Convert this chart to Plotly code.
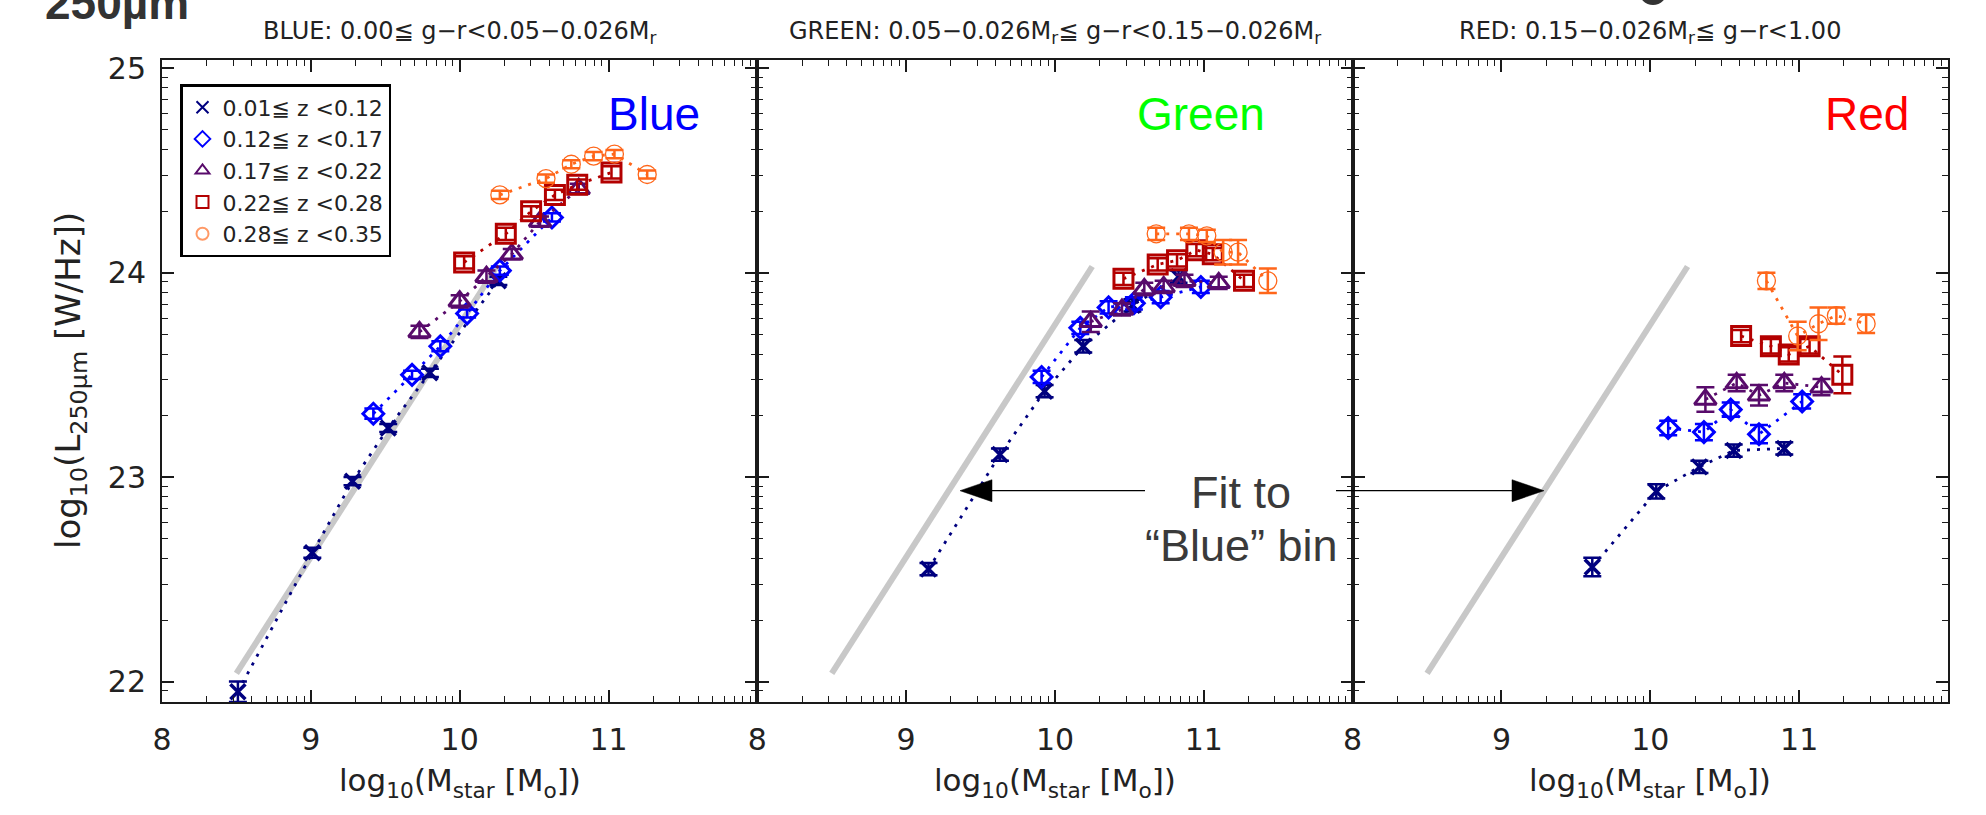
import numpy as np
import plotly.graph_objects as go

# ---------------- data ----------------
series_labels = ["0.01≦ z <0.12", "0.12≦ z <0.17", "0.17≦ z <0.22", "0.22≦ z <0.28", "0.28≦ z <0.35"]
series_colors = ["#00007f", "#0000ff", "#580b6b", "#b30000", "#ff661a"]
series_symbols = ["x-thin", "diamond-open", "triangle-up-open", "square-open", "circle-open"]

panel_titles = ["BLUE: 0.00≦ g−r<0.05−0.026M<sub>r</sub>",
                "GREEN: 0.05−0.026M<sub>r</sub>≦ g−r<0.15−0.026M<sub>r</sub>",
                "RED: 0.15−0.026M<sub>r</sub>≦ g−r<1.00"]
panel_names = ["Blue", "Green", "Red"]
panel_name_colors = ["#0000ff", "#00ff00", "#ff0000"]

x_ticks = [8, 9, 10, 11]
y_ticks = [22, 23, 24, 25]

# fit to the "Blue" bin (grey line), same in every panel
fit_x = [8.50, 10.25]
fit_y = [22.04, 24.03]

# ---- Blue panel ----
blue_z1_x = [8.51, 9.01, 9.28, 9.52, 9.80, 10.26]
blue_z1_y = [21.95, 22.63, 22.98, 23.24, 23.51, 23.96]
blue_z1_e = [0.05, 0.025, 0.02, 0.02, 0.02, 0.02]
blue_z2_x = [9.42, 9.68, 9.87, 10.05, 10.27, 10.62]
blue_z2_y = [23.31, 23.50, 23.64, 23.80, 24.01, 24.27]
blue_z2_e = [0.025, 0.02, 0.025, 0.02, 0.02, 0.02]
blue_z3_x = [9.73, 10.00, 10.18, 10.35, 10.54, 10.80]
blue_z3_y = [23.71, 23.86, 23.98, 24.09, 24.25, 24.41]
blue_z3_e = [0.03, 0.03, 0.03, 0.025, 0.025, 0.025]
blue_z4_x = [10.03, 10.31, 10.48, 10.64, 10.79, 11.02]
blue_z4_y = [24.05, 24.19, 24.30, 24.38, 24.43, 24.49]
blue_z4_e = [0.03, 0.03, 0.025, 0.025, 0.025, 0.03]
blue_z5_x = [10.27, 10.58, 10.75, 10.90, 11.04, 11.26]
blue_z5_y = [24.38, 24.46, 24.53, 24.57, 24.58, 24.48]
blue_z5_e = [0.02, 0.02, 0.02, 0.02, 0.02, 0.02]

# ---- Green panel ----
green_z1_x = [9.15, 9.63, 9.93, 10.19, 10.52, 10.83]
green_z1_y = [22.55, 23.11, 23.42, 23.64, 23.84, 23.98]
green_z1_e = [0.03, 0.03, 0.03, 0.03, 0.03, 0.03]
green_z2_x = [9.91, 10.17, 10.36, 10.53, 10.71, 10.98]
green_z2_y = [23.49, 23.73, 23.83, 23.85, 23.88, 23.93]
green_z2_e = [0.03, 0.03, 0.03, 0.03, 0.03, 0.03]
green_z3_x = [10.24, 10.45, 10.60, 10.73, 10.87, 11.10]
green_z3_y = [23.76, 23.82, 23.92, 23.93, 23.96, 23.95]
green_z3_e = [0.05, 0.03, 0.03, 0.03, 0.03, 0.03]
green_z4_x = [10.46, 10.69, 10.82, 10.95, 11.06, 11.27]
green_z4_y = [23.97, 24.04, 24.06, 24.11, 24.09, 23.96]
green_z4_e = [0.03, 0.03, 0.03, 0.03, 0.03, 0.03]
green_z5_x = [10.68, 10.90, 11.02, 11.13, 11.23, 11.43]
green_z5_y = [24.19, 24.19, 24.18, 24.10, 24.10, 23.96]
green_z5_e = [0.03, 0.03, 0.03, 0.06, 0.06, 0.06]

# ---- Red panel ----
red_z1_x = [9.61, 10.04, 10.33, 10.56, 10.90]
red_z1_y = [22.56, 22.93, 23.05, 23.13, 23.14]
red_z1_e = [0.045, 0.035, 0.03, 0.03, 0.03]
red_z2_x = [10.12, 10.36, 10.54, 10.73, 11.02]
red_z2_y = [23.24, 23.22, 23.33, 23.21, 23.37]
red_z2_e = [0.035, 0.04, 0.035, 0.045, 0.035]
red_z3_x = [10.37, 10.58, 10.73, 10.90, 11.15]
red_z3_y = [23.38, 23.46, 23.40, 23.46, 23.44]
red_z3_e = [0.06, 0.04, 0.05, 0.04, 0.04]
red_z4_x = [10.61, 10.81, 10.93, 11.07, 11.29]
red_z4_y = [23.69, 23.64, 23.60, 23.64, 23.50]
red_z4_e = [0.03, 0.035, 0.035, 0.035, 0.09]
red_z5_x = [10.78, 10.99, 11.13, 11.25, 11.45]
red_z5_y = [23.96, 23.69, 23.75, 23.79, 23.75]
red_z5_e = [0.04, 0.07, 0.08, 0.04, 0.045]

panels = [
    [(blue_z1_x, blue_z1_y, blue_z1_e), (blue_z2_x, blue_z2_y, blue_z2_e), (blue_z3_x, blue_z3_y, blue_z3_e),
     (blue_z4_x, blue_z4_y, blue_z4_e), (blue_z5_x, blue_z5_y, blue_z5_e)],
    [(green_z1_x, green_z1_y, green_z1_e), (green_z2_x, green_z2_y, green_z2_e), (green_z3_x, green_z3_y, green_z3_e),
     (green_z4_x, green_z4_y, green_z4_e), (green_z5_x, green_z5_y, green_z5_e)],
    [(red_z1_x, red_z1_y, red_z1_e), (red_z2_x, red_z2_y, red_z2_e), (red_z3_x, red_z3_y, red_z3_e),
     (red_z4_x, red_z4_y, red_z4_e), (red_z5_x, red_z5_y, red_z5_e)],
]

# ---------------- layout helpers ----------------
W, H = 1986, 815
L, R, T, B = 162, 1948, 60, 702
X_RANGE = [8, 12]
Y_RANGE = [21.9, 25.04]


def px(x):
    return (x - L) / (R - L)


def py(y):
    return 1 - (y - T) / (B - T)


def log_minor(lo, hi):
    vals = []
    for n in range(int(np.floor(lo)) - 1, int(np.ceil(hi)) + 1):
        for k in range(2, 10):
            v = n + np.log10(k)
            if lo < v < hi:
                vals.append(float(v))
    return vals


AX = "#1a1a1a"
TICKFONT = dict(family="DejaVu Sans, Liberation Sans, sans-serif", size=30, color="#222")
marker_sizes = [15, 16, 19, 19, 18]
marker_lw = [3.5, 3, 3, 3, 1.3]

fig = go.Figure()

for p in range(3):
    xa = "x" if p == 0 else f"x{p+1}"
    ya = "y" if p == 0 else f"y{p+1}"
    fig.add_trace(go.Scatter(x=fit_x, y=fit_y, mode="lines", line=dict(color="#c8c8c8", width=6),
                             xaxis=xa, yaxis=ya, showlegend=False, hoverinfo="skip"))
    for s, (xs, ys, es) in enumerate(panels[p]):
        c = series_colors[s]
        fig.add_trace(go.Scatter(
            x=xs, y=ys, mode="lines+markers",
            line=dict(color=c, width=2.8, dash="3px,7px"),
            marker=dict(symbol=series_symbols[s], size=marker_sizes[s], color=c,
                        line=dict(color=c, width=marker_lw[s])),
            error_y=dict(type="data", array=es, visible=True, color=c, thickness=2.5, width=9),
            xaxis=xa, yaxis=ya, showlegend=False, name=series_labels[s]))

# legend-only entries (markers only)
for s in range(5):
    c = series_colors[s] if s < 4 else "#ff9966"
    fig.add_trace(go.Scatter(x=[None], y=[None], mode="markers", name=series_labels[s],
                             marker=dict(symbol=series_symbols[s], size=15, color=c,
                                         line=dict(color=c, width=marker_lw[s] if s < 4 else 1.3)),
                             xaxis="x", yaxis="y", showlegend=True))

layout = dict(
    width=W, height=H,
    margin=dict(l=L, r=W - R, t=T, b=H - B),
    paper_bgcolor="white", plot_bgcolor="white",
    showlegend=True,
    legend=dict(x=px(180), y=py(84), xanchor="left", yanchor="top",
                bordercolor="black", borderwidth=2.5, bgcolor="white",
                font=dict(family="DejaVu Sans, sans-serif", size=22, color="#222"),
                tracegroupgap=0, itemsizing="constant"),
)

for p in range(3):
    xk = "xaxis" if p == 0 else f"xaxis{p+1}"
    yk = "yaxis" if p == 0 else f"yaxis{p+1}"
    ya = "y" if p == 0 else f"y{p+1}"
    xa = "x" if p == 0 else f"x{p+1}"
    layout[xk] = dict(domain=[p / 3, (p + 1) / 3], range=X_RANGE, anchor=ya,
                      tickmode="array", tickvals=x_ticks, ticktext=[str(v) for v in x_ticks],
                      ticks="inside", ticklen=12, tickwidth=1.5, tickcolor=AX,
                      showline=True, linecolor=AX, linewidth=2, mirror="ticks",
                      showgrid=False, zeroline=False, tickfont=TICKFONT, ticklabelstandoff=10,
                      minor=dict(tickmode="array", tickvals=log_minor(*X_RANGE), ticks="inside",
                                 ticklen=6, tickwidth=1.2, tickcolor=AX, showgrid=False))
    layout[yk] = dict(domain=[0, 1], range=Y_RANGE, anchor=xa,
                      tickmode="array", tickvals=y_ticks, ticktext=[str(v) for v in y_ticks],
                      showticklabels=(p == 0),
                      ticks="inside", ticklen=12, tickwidth=1.5, tickcolor=AX,
                      showline=True, linecolor=AX, linewidth=2, mirror="ticks",
                      showgrid=False, zeroline=False, tickfont=TICKFONT, ticklabelstandoff=8,
                      minor=dict(tickmode="array", tickvals=log_minor(*Y_RANGE), ticks="inside",
                                 ticklen=6, tickwidth=1.2, tickcolor=AX, showgrid=False))

fig.update_layout(**layout)

ann = []
# slide header fragment
ann.append(dict(text="<b>250µm</b>", x=px(117), y=py(3), xref="paper", yref="paper",
                showarrow=False, xanchor="center", yanchor="middle",
                font=dict(family="Liberation Sans, Arial, sans-serif", size=46, color="#333")))
panel_centers = [(L + (R - L) * (p + 0.5) / 3) for p in range(3)]
name_centers = [654, 1201, 1867]
for p in range(3):
    ann.append(dict(text=panel_titles[p], x=px(panel_centers[p]), y=py(33), xref="paper", yref="paper",
                    showarrow=False, xanchor="center", yanchor="middle",
                    font=dict(family="DejaVu Sans, sans-serif", size=24, color="#222")))
    ann.append(dict(text=panel_names[p], x=px(name_centers[p]), y=py(114), xref="paper", yref="paper",
                    showarrow=False, xanchor="center", yanchor="middle",
                    font=dict(family="Liberation Sans, Arial, sans-serif", size=46, color=panel_name_colors[p])))
    ann.append(dict(text="log<sub>10</sub>(M<sub>star</sub> [M<sub>o</sub>])", x=px(panel_centers[p]), y=py(782),
                    xref="paper", yref="paper", showarrow=False, xanchor="center", yanchor="middle",
                    font=dict(family="DejaVu Sans, sans-serif", size=31, color="#222")))
ann.append(dict(text="log<sub>10</sub>(L<sub>250μm</sub> [W/Hz])", x=px(70), y=py(381), xref="paper", yref="paper",
                showarrow=False, xanchor="center", yanchor="middle", textangle=-90,
                font=dict(family="DejaVu Sans, sans-serif", size=34, color="#222")))
ann.append(dict(text="Fit to", x=px(1241), y=py(492), xref="paper", yref="paper", showarrow=False,
                xanchor="center", yanchor="middle",
                font=dict(family="Liberation Sans, Arial, sans-serif", size=45, color="#3a3a3a")))
ann.append(dict(text="“Blue” bin", x=px(1241), y=py(545), xref="paper", yref="paper", showarrow=False,
                xanchor="center", yanchor="middle",
                font=dict(family="Liberation Sans, Arial, sans-serif", size=45, color="#3a3a3a")))
fig.update_layout(annotations=ann)

shapes = []
ay = 490.7
shapes.append(dict(type="line", xref="paper", yref="paper", x0=px(1145), x1=px(990), y0=py(ay), y1=py(ay),
                   line=dict(color="black", width=1.2)))
shapes.append(dict(type="path", xref="paper", yref="paper",
                   path=f"M {px(960)},{py(ay)} L {px(992)},{py(ay-11)} L {px(992)},{py(ay+11)} Z",
                   fillcolor="black", line=dict(color="black", width=0.5)))
shapes.append(dict(type="line", xref="paper", yref="paper", x0=px(1336), x1=px(1513), y0=py(ay), y1=py(ay),
                   line=dict(color="black", width=1.2)))
shapes.append(dict(type="path", xref="paper", yref="paper",
                   path=f"M {px(1544)},{py(ay)} L {px(1512)},{py(ay-11)} L {px(1512)},{py(ay+11)} Z",
                   fillcolor="black", line=dict(color="black", width=0.5)))
shapes.append(dict(type="circle", xref="paper", yref="paper", x0=px(1639), x1=px(1667), y0=py(5), y1=py(-23),
                   fillcolor="#333", line=dict(width=0)))
fig.update_layout(shapes=shapes)

fig.write_html("out.html")
